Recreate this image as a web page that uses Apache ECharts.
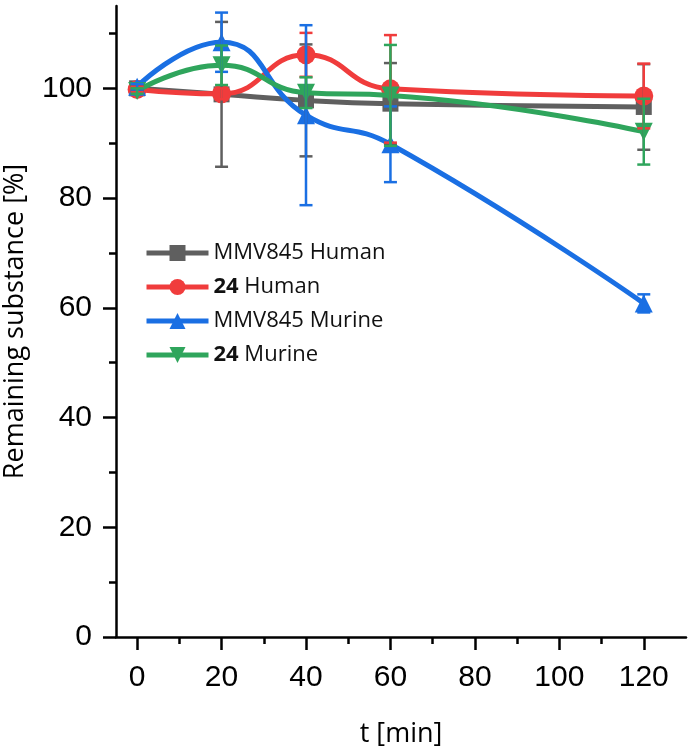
<!DOCTYPE html>
<html>
<head>
<meta charset="utf-8">
<script src="https://cdn.jsdelivr.net/npm/echarts@6/dist/echarts.min.js"></script>
<style>
html,body{margin:0;padding:0;background:#fff;}
#chart{width:689px;height:750px;}
</style>
</head>
<body>
<div id="chart"></div>
<script>
const times = [0, 20, 40, 60, 120];
const seriesNames = ['MMV845 Human', '24 Human', 'MMV845 Murine', '24 Murine'];
const mmvHuman = [100.0, 98.9, 97.8, 97.2, 96.6];
const mmvHumanErr = [0.5, 13.2, 10.2, 7.4, 7.8];
const h24Human = [99.8, 99.0, 106.1, 99.9, 98.6];
const h24HumanErr = [0.5, 1.0, 4.0, 9.8, 5.9];
const mmvMurine = [100.3, 108.4, 95.1, 89.8, 60.8];
const mmvMurineErr = [0.5, 5.4, 16.4, 6.9, 1.65];
const m24Murine = [99.5, 104.2, 99.2, 98.7, 92.1];
const m24MurineErr = [0.5, 3.6, 2.8, 9.2, 6.0];
const xTicks = [0, 20, 40, 60, 80, 100, 120];
const xMinor = [10, 30, 50, 70, 90, 110];
const yTicks = [0, 20, 40, 60, 80, 100];
const yMinor = [10, 30, 50, 70, 90, 110];

const colors = ['#5f5f5f', '#f03c3c', '#1a6fe3', '#2fa55c'];
const symbols = ['rect', 'circle', 'triangle', 'path://M0,0 L10,0 L5,9 Z'];
const symbolSizes = [16, 19, 18, 18];
const values = [mmvHuman, h24Human, mmvMurine, m24Murine];
const errors = [mmvHumanErr, h24HumanErr, mmvMurineErr, m24MurineErr];

const chart = echarts.init(document.getElementById('chart'), null, {renderer: 'canvas'});

const series = [];
values.forEach((vals, k) => {
  series.push({
    type: 'line',
    name: seriesNames[k],
    data: times.map((t, i) => [t, vals[i]]),
    smooth: 0.5,
    symbol: symbols[k],
    symbolSize: symbolSizes[k],
    showAllSymbol: true,
    lineStyle: {color: colors[k], width: 5},
    itemStyle: {color: colors[k]},
    z: 2 + k,
    silent: true
  });
});
values.forEach((vals, k) => {
  const col = colors[k];
  series.push({
    type: 'custom',
    name: seriesNames[k] + ' error',
    data: times.map((t, i) => [t, vals[i] - errors[k][i], vals[i] + errors[k][i]]),
    encode: {x: 0, y: [1, 2]},
    z: 10 + k,
    silent: true,
    renderItem: function (params, api) {
      const x = api.value(0);
      const lo = api.coord([x, api.value(1)]);
      const hi = api.coord([x, api.value(2)]);
      const w = 6.5;
      const st = {stroke: col, lineWidth: 2.5};
      return {
        type: 'group',
        children: [
          {type: 'line', shape: {x1: lo[0], y1: lo[1], x2: hi[0], y2: hi[1]}, style: st},
          {type: 'line', shape: {x1: lo[0] - w, y1: lo[1], x2: lo[0] + w, y2: lo[1]}, style: st},
          {type: 'line', shape: {x1: hi[0] - w, y1: hi[1], x2: hi[0] + w, y2: hi[1]}, style: st}
        ]
      };
    }
  });
});

const axisLineStyle = {color: '#000', width: 2.5};

chart.setOption({
  animation: false,
  backgroundColor: '#fff',
  grid: {left: 116, right: 3, top: 6, bottom: 113, containLabel: false, outerBoundsMode: 'none'},
  legend: {
    data: seriesNames,
    orient: 'vertical',
    left: 144,
    top: 242,
    padding: 0,
    itemWidth: 62,
    itemHeight: 20,
    itemGap: 12,
    lineStyle: {width: 5},
    textStyle: {
      fontFamily: 'Open Sans',
      fontSize: 22,
      lineHeight: 22,
      color: '#111',
      rich: {
        b: {fontFamily: 'Open Sans', fontSize: 22, fontWeight: 'bold', color: '#111'},
        r: {fontFamily: 'Open Sans', fontSize: 22, color: '#111'}
      }
    },
    formatter: function (name) {
      if (name.indexOf('24 ') === 0) return '{b|24} {r|' + name.slice(3) + '}';
      return '{r|' + name + '}';
    }
  },
  xAxis: [
    {
      type: 'value', min: -5, max: 130,
      position: 'bottom',
      name: 't [min]',
      nameLocation: 'middle',
      nameGap: 84,
      nameTextStyle: {fontFamily: 'Open Sans', fontSize: 27, color: '#000'},
      axisLine: {show: true, onZero: false, lineStyle: axisLineStyle},
      axisTick: {show: true, inside: false, length: 13, lineStyle: axisLineStyle, customValues: xTicks},
      axisLabel: {show: true, margin: 26, fontFamily: 'Liberation Sans', fontSize: 30, color: '#000', customValues: xTicks},
      splitLine: {show: false}
    },
    {
      type: 'value', min: -5, max: 130,
      position: 'bottom',
      axisLine: {show: false, onZero: false},
      axisTick: {show: true, inside: false, length: 7, lineStyle: axisLineStyle, customValues: xMinor},
      axisLabel: {show: false, customValues: xMinor},
      splitLine: {show: false}
    }
  ],
  yAxis: [
    {
      type: 'value', min: 0, max: 115,
      position: 'left',
      name: 'Remaining substance [%]',
      nameLocation: 'middle',
      nameGap: 87,
      nameTextStyle: {fontFamily: 'Open Sans', fontSize: 27, color: '#000'},
      axisLine: {show: true, onZero: false, lineStyle: axisLineStyle},
      axisTick: {show: true, inside: false, length: 13, lineStyle: axisLineStyle, customValues: yTicks},
      axisLabel: {show: true, margin: 24, fontFamily: 'Liberation Sans', fontSize: 30, color: '#000', customValues: yTicks},
      splitLine: {show: false}
    },
    {
      type: 'value', min: 0, max: 115,
      position: 'left',
      axisLine: {show: false, onZero: false},
      axisTick: {show: true, inside: false, length: 7, lineStyle: axisLineStyle, customValues: yMinor},
      axisLabel: {show: false, customValues: yMinor},
      splitLine: {show: false}
    }
  ],
  series: series
});
</script>
</body>
</html>
